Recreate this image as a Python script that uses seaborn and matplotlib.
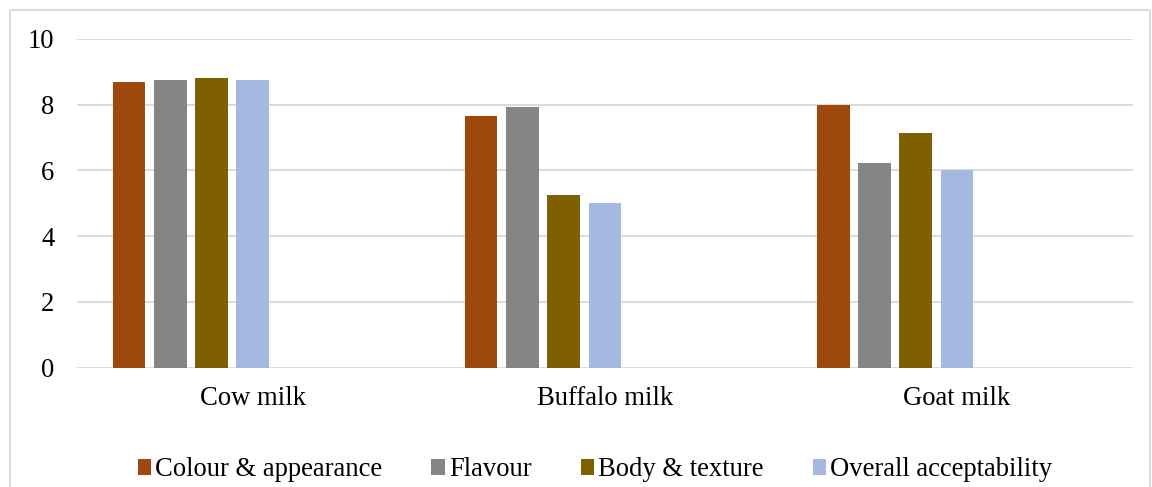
import matplotlib
matplotlib.use("Agg")
import matplotlib.pyplot as plt
import seaborn as sns
import pandas as pd
from matplotlib.patches import Patch, Rectangle

categories = ["Cow milk", "Buffalo milk", "Goat milk"]
series = ["Colour & appearance", "Flavour", "Body & texture", "Overall acceptability"]
colour_appearance = [8.70, 7.65, 8.00]
flavour = [8.75, 7.92, 6.24]
body_texture = [8.80, 5.24, 7.15]
overall_acceptability = [8.75, 5.00, 6.00]
colors = ["#9E480E", "#858585", "#7F6000", "#A3B9E1"]
y_ticks = [0, 2, 4, 6, 8, 10]

values = [colour_appearance, flavour, body_texture, overall_acceptability]
rows = []
for s, vals in zip(series, values):
    for c, v in zip(categories, vals):
        rows.append({"Milk": c, "Series": s, "Score": v})
df = pd.DataFrame(rows)

# Excel-style empty slots so the 4 bars sit left of the category centre
pads = ["pad1", "pad2", "pad3"]
hue_order = series + pads
palette = dict(zip(series, colors))
palette.update({p: "#FFFFFF" for p in pads})

sns.set_theme(style="white")
plt.rcParams["font.family"] = ["Liberation Serif", "DejaVu Serif"]

FS = 19.2

fig = plt.figure(figsize=(11.52, 4.87), dpi=100)
ax = fig.add_axes([76.7 / 1152, 1 - 367.5 / 487, (1133 - 76.7) / 1152, (367.5 - 39) / 487])

sns.barplot(data=df, x="Milk", y="Score", hue="Series", hue_order=hue_order,
            order=categories, palette=palette, width=0.82, gap=0.21,
            linewidth=0, saturation=1, legend=False, ax=ax)

ax.set_ylim(0, 10)
ax.set_xlim(-0.5, 2.5)
ax.set_yticks(y_ticks)
ax.set_yticklabels([str(t) for t in y_ticks])
ax.yaxis.grid(True, color="#D9D9D9", linewidth=1.3)
ax.set_axisbelow(True)
for sp in ax.spines.values():
    sp.set_visible(False)
ax.tick_params(axis="both", length=0, labelsize=FS, colors="black")
ax.tick_params(axis="y", pad=16)
ax.tick_params(axis="x", pad=13)
ax.set_xlabel("")
ax.set_ylabel("")

handles = [Patch(facecolor=c, edgecolor="none") for c in colors]
fig.legend(handles, series, loc="center", bbox_to_anchor=(595 / 1152, 1 - 470 / 487),
           ncol=4, frameon=False, fontsize=FS, labelcolor="black",
           handlelength=0.5, handleheight=0.5,
           handletextpad=0.15, columnspacing=1.85)

fig.patches.append(Rectangle((10 / 1152, -0.05), (1150 - 10) / 1152, 1.05 - 10 / 487,
                             transform=fig.transFigure, fill=False,
                             edgecolor="#D9D9D9", linewidth=1.3))

fig.savefig("out.png", dpi=100)
